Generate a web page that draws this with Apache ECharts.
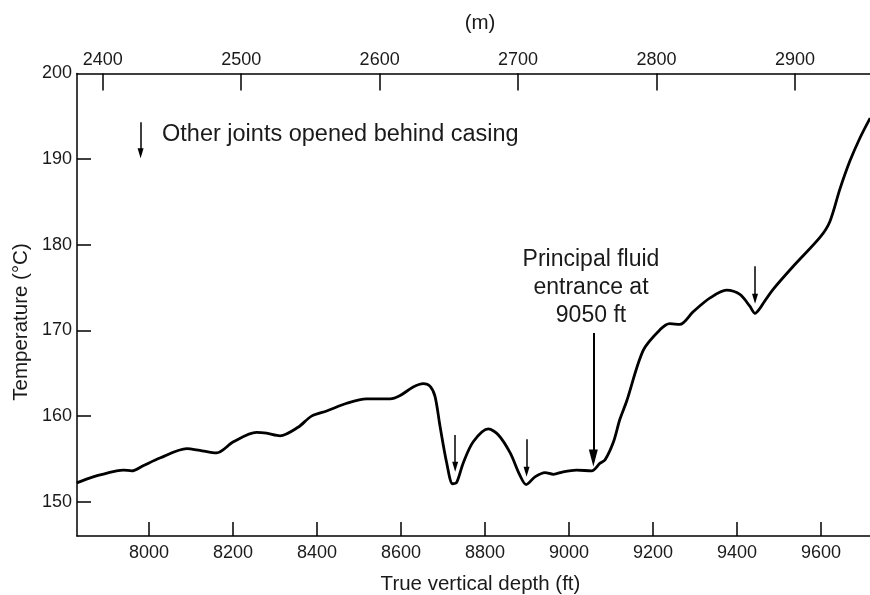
<!DOCTYPE html>
<html>
<head>
<meta charset="utf-8">
<script src="https://cdn.jsdelivr.net/npm/echarts@6/dist/echarts.min.js"></script>
<style>html,body{margin:0;padding:0;background:#fff;}#c{width:870px;height:595px;}</style>
</head>
<body>
<div id="c"></div>
<script>
// ---- data ----
const depthFt = [7828, 7867, 7923, 7939, 7959, 7986, 8026, 8090, 8121, 8161, 8201, 8256, 8280, 8312, 8355, 8387, 8423, 8471, 8518, 8574, 8598, 8629, 8653, 8669, 8681, 8693, 8709, 8723, 8733, 8748, 8772, 8808, 8832, 8860, 8883, 8898, 8919, 8943, 8963, 8986, 9018, 9054, 9074, 9086, 9106, 9121, 9137, 9177, 9217, 9240, 9264, 9296, 9336, 9375, 9407, 9431, 9443, 9455, 9463, 9486, 9534, 9598, 9621, 9645, 9669, 9693, 9717];
const tempC = [152.2, 152.9, 153.6, 153.7, 153.6, 154.2, 155.1, 156.2, 156.0, 155.7, 157.0, 158.1, 158.0, 157.7, 158.7, 160.0, 160.6, 161.5, 162.0, 162.0, 162.4, 163.4, 163.8, 163.5, 162.3, 158.8, 154.5, 152.1, 152.3, 154.5, 157.0, 158.5, 157.8, 155.7, 153.1, 152.0, 152.9, 153.4, 153.2, 153.5, 153.7, 153.6, 154.5, 154.9, 157.0, 159.6, 161.7, 167.7, 170.1, 170.8, 170.7, 172.2, 173.8, 174.7, 174.2, 172.8, 172.0, 172.6, 173.2, 174.8, 177.5, 180.9, 182.7, 186.5, 189.8, 192.5, 194.8];
const ftTicks = [8000, 8200, 8400, 8600, 8800, 9000, 9200, 9400, 9600];
const mTicks = [2400, 2500, 2600, 2700, 2800, 2900];
const tempTicks = [150, 160, 170, 180, 190, 200];
// small arrows: [depth, startTemp, endTemp]
const jointArrows = [[7980, 194.3, 190.7], [8729, 157.8, 154.1], [8899, 157.3, 153.5], [9443, 177.5, 173.7]];
// principal entrance arrow
const mainArrow = [9058, 169.7, 155.1];
const legendText = 'Other joints opened behind casing';
const mainText = 'Principal fluid\nentrance at\n9050 ft';

const FONT = "'Liberation Sans', Arial, Helvetica, sans-serif";
const TXT = '#1a1a1a';
const plain = v => String(v);
const chart = echarts.init(document.getElementById('c'), null, {renderer: 'canvas'});

const arrowData = (arr, head) => arr.map(a => [
  {coord: [a[0], a[1]], symbol: 'none'},
  {coord: [a[0], a[2]], symbol: 'triangle', symbolSize: head}
]);

chart.setOption({
  animation: false,
  grid: {left: 77, right: 0, top: 73.5, bottom: 59, containLabel: false, outerBoundsMode: 'none'},
  xAxis: [{
    type: 'value', position: 'bottom', min: 7828.6, max: 9716.7,
    name: 'True vertical depth (ft)', nameLocation: 'middle', nameGap: 38,
    nameTextStyle: {fontFamily: FONT, fontSize: 20.5, color: TXT, padding: [0, 0, 0, 14]},
    axisLine: {show: true, onZero: false, lineStyle: {color: '#000', width: 1.5}},
    axisTick: {show: true, inside: true, length: 14, customValues: ftTicks, lineStyle: {color: '#000', width: 1.5}},
    axisLabel: {customValues: ftTicks, formatter: plain, margin: 8, fontFamily: FONT, fontSize: 18, color: TXT},
    splitLine: {show: false}
  }, {
    type: 'value', position: 'top', min: 2381.4, max: 2954.2,
    name: '(m)', nameLocation: 'middle', nameGap: 40,
    nameTextStyle: {fontFamily: FONT, fontSize: 20.5, color: TXT, padding: [0, 0, 0, 13]},
    axisLine: {show: true, onZero: false, lineStyle: {color: '#000', width: 1.5}},
    axisTick: {show: true, inside: true, length: 17, customValues: mTicks, lineStyle: {color: '#000', width: 1.5}},
    axisLabel: {customValues: mTicks, formatter: plain, margin: 4, fontFamily: FONT, fontSize: 18, color: TXT},
    splitLine: {show: false}
  }],
  yAxis: {
    type: 'value', min: 146, max: 200,
    axisLine: {show: true, onZero: false, lineStyle: {color: '#000', width: 1.5}},
    axisTick: {show: true, inside: true, length: 14, customValues: tempTicks.slice(0, 5), lineStyle: {color: '#000', width: 1.5}},
    axisLabel: {customValues: tempTicks, formatter: plain, margin: 5, fontFamily: FONT, fontSize: 18, color: TXT},
    splitLine: {show: false}
  },
  series: [{
    type: 'line', xAxisIndex: 0, yAxisIndex: 0,
    data: depthFt.map((d, i) => [d, tempC[i]]),
    smooth: 0.3, showSymbol: false, symbol: 'none',
    lineStyle: {color: '#000', width: 2.8},
    markLine: {
      silent: true, animation: false, label: {show: false},
      lineStyle: {color: '#000', width: 1.5, type: 'solid'},
      data: arrowData(jointArrows, [6, 10])
    }
  }, {
    type: 'line', xAxisIndex: 0, yAxisIndex: 0, data: [],
    markLine: {
      silent: true, animation: false, label: {show: false},
      lineStyle: {color: '#000', width: 2, type: 'solid'},
      data: arrowData([mainArrow], [9, 17])
    }
  }],
  graphic: [{
    type: 'text', left: 162, top: 123,
    style: {text: legendText, font: '23.5px ' + FONT, fill: TXT}
  }, {
    type: 'text', x: 591, y: 246,
    style: {text: mainText, font: '23px ' + FONT, fill: TXT, align: 'center', lineHeight: 28}
  }, {
    type: 'text', x: 21, y: 322, rotation: Math.PI / 2,
    style: {text: 'Temperature (°C)', font: '20.5px ' + FONT, fill: TXT, align: 'center', verticalAlign: 'middle'}
  }]
});
</script>
</body>
</html>
